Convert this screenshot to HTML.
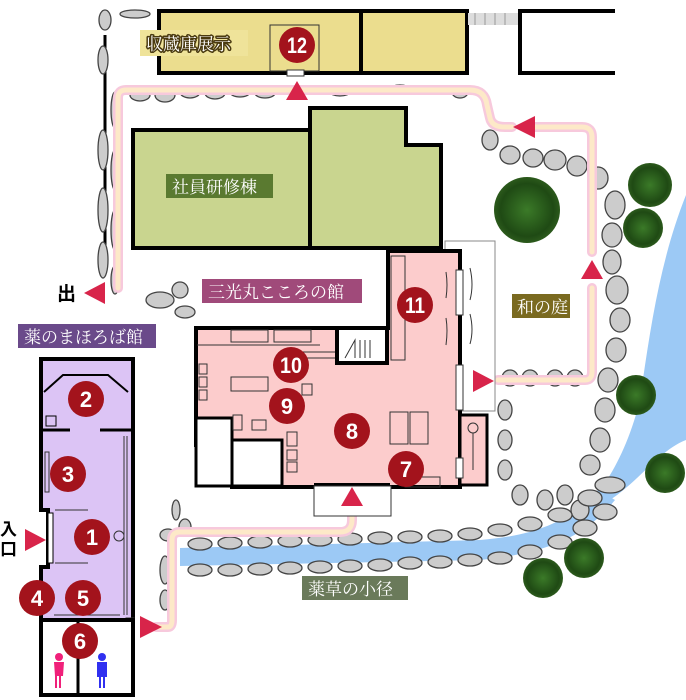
<!DOCTYPE html>
<html><head><meta charset="utf-8"><style>
html,body{margin:0;padding:0;background:#fff;}
svg{display:block}
.lb{font-family:"Liberation Serif","Noto Serif CJK SC",serif;font-size:17px;fill:#fff;}
.n{font-family:"Liberation Sans",sans-serif;font-weight:bold;font-size:22px;fill:#fff;text-anchor:middle}
</style></head><body>
<svg width="686" height="700" viewBox="0 0 686 700" xmlns="http://www.w3.org/2000/svg">
<defs>
<radialGradient id="tr"><stop offset="0" stop-color="#3b7a28"/><stop offset="0.8" stop-color="#1f4a14"/><stop offset="1" stop-color="#2c5a1c"/></radialGradient>
</defs>
<!-- river -->
<path d="M686 195 C660 260 650 330 640 400 C630 440 615 470 600 490 L610 500 C640 480 660 450 686 440 Z" fill="#9cc9f5"/>
<path d="M598 490 C570 520 540 535 480 540 L180 548 L180 566 L480 560 C560 552 590 530 615 500 Z" fill="#9cc9f5"/>
<line x1="105" y1="35" x2="105" y2="262" stroke="#000" stroke-width="3"/>
<!-- stones -->
<g stroke="#444" stroke-width="1.3" fill="#ccc">
<ellipse cx="105" cy="20" rx="6" ry="10"/><ellipse cx="135" cy="14" rx="15" ry="4"/>
<ellipse cx="103" cy="60" rx="5" ry="14"/><ellipse cx="103" cy="150" rx="5" ry="20"/><ellipse cx="103" cy="210" rx="5" ry="22"/><ellipse cx="103" cy="260" rx="5" ry="18"/>
<ellipse cx="115" cy="110" rx="4" ry="18"/><ellipse cx="115" cy="170" rx="4" ry="20"/><ellipse cx="115" cy="230" rx="4" ry="20"/><ellipse cx="115" cy="280" rx="4" ry="14"/>
<ellipse cx="140" cy="95" rx="10" ry="6"/><ellipse cx="165" cy="95" rx="10" ry="7"/><ellipse cx="190" cy="92" rx="10" ry="6"/><ellipse cx="215" cy="93" rx="10" ry="6"/><ellipse cx="240" cy="92" rx="10" ry="5"/><ellipse cx="265" cy="93" rx="10" ry="5"/>
<ellipse cx="340" cy="92" rx="10" ry="4"/><ellipse cx="370" cy="90" rx="10" ry="4"/><ellipse cx="400" cy="89" rx="10" ry="4"/><ellipse cx="430" cy="90" rx="10" ry="4"/><ellipse cx="460" cy="92" rx="8" ry="6"/>
<ellipse cx="490" cy="140" rx="8" ry="10"/><ellipse cx="510" cy="155" rx="10" ry="9"/><ellipse cx="533" cy="158" rx="10" ry="9"/><ellipse cx="555" cy="160" rx="11" ry="10"/><ellipse cx="577" cy="166" rx="10" ry="10"/><ellipse cx="598" cy="178" rx="10" ry="11"/>
<ellipse cx="615" cy="205" rx="10" ry="14"/><ellipse cx="612" cy="235" rx="10" ry="12"/><ellipse cx="612" cy="262" rx="9" ry="12"/><ellipse cx="617" cy="290" rx="11" ry="14"/><ellipse cx="620" cy="320" rx="10" ry="12"/><ellipse cx="616" cy="350" rx="10" ry="12"/><ellipse cx="608" cy="380" rx="10" ry="12"/><ellipse cx="605" cy="410" rx="10" ry="12"/><ellipse cx="600" cy="440" rx="10" ry="12"/><ellipse cx="590" cy="465" rx="10" ry="10"/><ellipse cx="610" cy="485" rx="15" ry="8"/>
<ellipse cx="510" cy="378" rx="8" ry="8"/><ellipse cx="530" cy="378" rx="8" ry="8"/><ellipse cx="555" cy="378" rx="8" ry="8"/><ellipse cx="575" cy="378" rx="8" ry="8"/>
<ellipse cx="505" cy="410" rx="7" ry="10"/><ellipse cx="505" cy="440" rx="7" ry="10"/><ellipse cx="505" cy="470" rx="7" ry="10"/><ellipse cx="520" cy="495" rx="8" ry="10"/><ellipse cx="545" cy="500" rx="8" ry="10"/><ellipse cx="565" cy="495" rx="8" ry="10"/><ellipse cx="580" cy="510" rx="9" ry="10"/>
<ellipse cx="160" cy="300" rx="14" ry="8"/><ellipse cx="185" cy="312" rx="10" ry="6"/><ellipse cx="180" cy="290" rx="8" ry="8"/>
<ellipse cx="176" cy="510" rx="4" ry="10"/><ellipse cx="185" cy="527" rx="6" ry="8"/><ellipse cx="168" cy="535" rx="8" ry="6"/><ellipse cx="165" cy="570" rx="5" ry="14"/><ellipse cx="165" cy="600" rx="5" ry="10"/>
</g>
<g stroke="#444" stroke-width="1.3" fill="#ccc">
<ellipse cx="200" cy="544" rx="12" ry="6"/><ellipse cx="230" cy="543" rx="12" ry="6"/><ellipse cx="260" cy="542" rx="12" ry="6"/><ellipse cx="290" cy="541" rx="12" ry="6"/><ellipse cx="320" cy="540" rx="12" ry="6"/><ellipse cx="350" cy="539" rx="12" ry="6"/><ellipse cx="380" cy="538" rx="12" ry="6"/><ellipse cx="410" cy="537" rx="12" ry="6"/><ellipse cx="440" cy="536" rx="12" ry="6"/><ellipse cx="470" cy="534" rx="12" ry="6"/><ellipse cx="500" cy="530" rx="12" ry="6"/><ellipse cx="530" cy="524" rx="12" ry="7"/><ellipse cx="560" cy="515" rx="12" ry="7"/><ellipse cx="590" cy="498" rx="12" ry="8"/>
<ellipse cx="200" cy="570" rx="12" ry="6"/><ellipse cx="230" cy="570" rx="12" ry="6"/><ellipse cx="260" cy="569" rx="12" ry="6"/><ellipse cx="290" cy="568" rx="12" ry="6"/><ellipse cx="320" cy="567" rx="12" ry="6"/><ellipse cx="350" cy="566" rx="12" ry="6"/><ellipse cx="380" cy="565" rx="12" ry="6"/><ellipse cx="410" cy="563" rx="12" ry="6"/><ellipse cx="440" cy="562" rx="12" ry="6"/><ellipse cx="470" cy="560" rx="12" ry="6"/><ellipse cx="500" cy="558" rx="12" ry="6"/><ellipse cx="530" cy="552" rx="12" ry="7"/><ellipse cx="560" cy="542" rx="12" ry="7"/><ellipse cx="585" cy="528" rx="12" ry="8"/><ellipse cx="605" cy="512" rx="12" ry="8"/>
</g>
<!-- trees -->
<g fill="url(#tr)"><circle cx="527" cy="210" r="33"/><circle cx="650" cy="185" r="22"/><circle cx="643" cy="228" r="20"/><circle cx="636" cy="395" r="20"/><circle cx="665" cy="473" r="20"/><circle cx="584" cy="558" r="20"/><circle cx="543" cy="578" r="20"/></g>
<!-- paths -->
<g fill="none" stroke-linecap="round" stroke-linejoin="round">
<g stroke="#f7c9dc" stroke-width="10">
<path d="M118 288 V98 Q118 90 126 90 H470 Q485 90 487 105 L490 118 Q492 127 505 127 H512"/>
<path d="M527 127 H582 Q592 127 592 137 V252"/>
<path d="M498 380 H585 Q592 380 592 372 V288"/>
<path d="M156 627 H168 Q172 627 172 620 V540 Q172 532 180 532 H340 Q352 532 352 520 V510"/>
</g>
<g stroke="#fde9c8" stroke-width="5">
<path d="M118 288 V98 Q118 90 126 90 H470 Q485 90 487 105 L490 118 Q492 127 505 127 H512"/>
<path d="M527 127 H582 Q592 127 592 137 V252"/>
<path d="M498 380 H585 Q592 380 592 372 V288"/>
<path d="M156 627 H168 Q172 627 172 620 V540 Q172 532 180 532 H340 Q352 532 352 520 V510"/>
</g></g>
<!-- top storehouse -->
<rect x="159" y="11" width="308" height="62" fill="#ebdd8e" stroke="#000" stroke-width="4"/>
<line x1="361" y1="11" x2="361" y2="73" stroke="#000" stroke-width="4"/>
<rect x="270" y="25" width="49" height="46" fill="none" stroke="#333" stroke-width="1"/>
<rect x="287" y="70" width="17" height="6" fill="#fff" stroke="#333"/>
<rect x="468" y="13" width="50" height="12" fill="#ddd"/>
<g stroke="#999" stroke-width="1"><line x1="475" y1="13" x2="475" y2="25"/><line x1="485" y1="13" x2="485" y2="25"/><line x1="495" y1="13" x2="495" y2="25"/><line x1="505" y1="13" x2="505" y2="25"/></g>
<path d="M615 11 H520 V73 H615" fill="#fff" stroke="#000" stroke-width="4"/>
<!-- green building -->
<path d="M133 130 H310 V108 H406 V145 H441 V248 H133 Z" fill="#c9d58f" stroke="#000" stroke-width="4"/>
<line x1="310" y1="108" x2="310" y2="248" stroke="#000" stroke-width="4"/>
<!-- annex outline -->
<rect x="445" y="241" width="50" height="170" fill="#fff" stroke="#888" stroke-width="1"/>
<!-- pink building -->
<path d="M196 328 H388 V251 H460 V487 H388 V485 H316 V487 H232 V445 H196 Z" fill="#fccccc" stroke="#000" stroke-width="4"/>
<rect x="196" y="418" width="36" height="68" fill="#fff" stroke="#000" stroke-width="3"/>
<rect x="232" y="440" width="50" height="46" fill="#fff" stroke="#000" stroke-width="3"/>
<rect x="337" y="328" width="50" height="35" fill="#fff" stroke="#000" stroke-width="4"/>
<g stroke="#333" stroke-width="1" fill="none">
<path d="M345 358 L355 340 V358 M360 340 V358 M365 340 V358 M370 340 V358"/>
<rect x="391" y="256" width="14" height="104"/><rect x="231" y="330" width="37" height="12"/><rect x="274" y="330" width="37" height="12"/>
<line x1="197" y1="345" x2="320" y2="345"/><line x1="300" y1="352" x2="335" y2="352"/><line x1="300" y1="358" x2="335" y2="358"/>
<rect x="231" y="377" width="37" height="14"/><rect x="199" y="364" width="8" height="10"/><rect x="199" y="377" width="8" height="10"/><rect x="199" y="390" width="8" height="10"/>
<rect x="302" y="384" width="10" height="11"/><rect x="233" y="415" width="9" height="15"/><rect x="252" y="420" width="14" height="10"/>
<rect x="287" y="432" width="10" height="14"/><rect x="287" y="450" width="10" height="10"/><rect x="287" y="462" width="10" height="10"/>
<rect x="390" y="412" width="18" height="32"/><rect x="410" y="412" width="18" height="32"/><rect x="405" y="477" width="35" height="10"/>
<path d="M446 272 Q448 285 446 298 M446 318 Q448 330 446 345 M470 268 Q474 285 470 300 M470 314 Q474 330 470 344"/>
</g>
<rect x="456" y="270" width="7" height="45" fill="#fff" stroke="#333"/>
<rect x="456" y="365" width="7" height="45" fill="#fff" stroke="#333"/>
<rect x="460" y="415" width="27" height="70" fill="#fccccc" stroke="#000" stroke-width="3"/>
<circle cx="473" cy="428" r="5" fill="none" stroke="#333"/><line x1="473" y1="433" x2="473" y2="470" stroke="#333"/>
<rect x="456" y="458" width="7" height="20" fill="#fff" stroke="#333"/>
<rect x="314" y="486" width="77" height="30" fill="#fff" stroke="#333" stroke-width="1"/>
<!-- purple building -->
<path d="M41 359 H133 V620 H41 V567 H48 V510 H41 Z" fill="#dcc4f5" stroke="#000" stroke-width="4"/>
<path d="M44 392 L63 375 H108 L128 392" fill="none" stroke="#000" stroke-width="2"/>
<path d="M41 430 H70 M100 430 H133" stroke="#000" stroke-width="3"/>
<rect x="46" y="416" width="10" height="10" fill="none" stroke="#000"/>
<g stroke="#333" stroke-width="1" fill="none"><line x1="55" y1="510" x2="88" y2="510"/><line x1="55" y1="563" x2="88" y2="563"/><line x1="124" y1="436" x2="124" y2="615"/><line x1="127" y1="436" x2="127" y2="615"/><rect x="45" y="452" width="4" height="40"/><line x1="54" y1="615" x2="120" y2="615"/><circle cx="119" cy="536" r="5"/></g>
<rect x="48" y="513" width="5" height="50" fill="#fff" stroke="#000"/>
<rect x="126" y="618" width="8" height="18" fill="#fff" stroke="#333"/>
<rect x="41" y="620" width="92" height="75" fill="#fff" stroke="#000" stroke-width="4"/>
<line x1="78" y1="620" x2="78" y2="695" stroke="#000" stroke-width="3"/>
<g fill="#f0207a"><circle cx="59" cy="657" r="4"/><path d="M54 662 H64 L63 676 H61 V688 H59 V676 H57 V688 H55 V676 Z"/></g>
<g fill="#3030f0"><circle cx="102" cy="657" r="4"/><path d="M97 662 H107 V677 H105 V688 H103 V677 H101 V688 H99 V677 H97 Z"/></g>
<!-- arrows -->
<g fill="#d8244a">
<polygon points="297,81 286,100 308,100"/><polygon points="513,127 535,116 535,138"/><polygon points="592,260 581,279 603,279"/>
<polygon points="494,381 473,370 473,392"/><polygon points="352,487 341,506 363,506"/><polygon points="84,293 105,282 105,304"/>
<polygon points="46,540 25,529 25,551"/><polygon points="162,627 140,616 140,638"/>
</g>
<!-- labels -->
<rect x="140" y="30" width="108" height="26" fill="#efe39a"/><text class="lb" x="146" y="50" stroke="#4a3a10" stroke-width="3" paint-order="stroke" stroke-linejoin="round">収蔵庫展示</text>
<rect x="166" y="174" width="107" height="24" fill="#5a7a30"/><text class="lb" x="172" y="193">社員研修棟</text>
<rect x="202" y="279" width="160" height="24" fill="#a04a7a"/><text class="lb" x="208" y="298">三光丸こころの館</text>
<rect x="18" y="324" width="138" height="24" fill="#6a4a8a"/><text class="lb" x="24" y="343">薬のまほろば館</text>
<rect x="512" y="294" width="58" height="24" fill="#7a6a20"/><text class="lb" x="517" y="313">和の庭</text>
<rect x="302" y="576" width="106" height="24" fill="#6a7a5a"/><text class="lb" x="308" y="595">薬草の小径</text>
<text x="57" y="300" font-family="Liberation Sans,'Noto Sans CJK JP',sans-serif" font-weight="bold" font-size="19" fill="#000">出</text>
<text x="0" y="535" font-family="Liberation Sans,'Noto Sans CJK JP',sans-serif" font-weight="bold" font-size="17" fill="#000">入</text>
<text x="0" y="555" font-family="Liberation Sans,'Noto Sans CJK JP',sans-serif" font-weight="bold" font-size="17" fill="#000">口</text>
<!-- numbers -->
<g fill="#a3131c">
<circle cx="297" cy="45" r="18"/><circle cx="415" cy="305" r="18"/><circle cx="291" cy="365" r="18"/><circle cx="287" cy="406" r="18"/><circle cx="352" cy="431" r="18"/><circle cx="406" cy="469" r="18"/>
<circle cx="86" cy="399" r="18"/><circle cx="68" cy="474" r="18"/><circle cx="92" cy="537" r="18"/><circle cx="37" cy="598" r="18"/><circle cx="83" cy="598" r="18"/><circle cx="80" cy="641" r="18"/>
</g>
<g>
<text class="n" x="297" y="53" textLength="20" lengthAdjust="spacingAndGlyphs">12</text><text class="n" x="415" y="313" textLength="20" lengthAdjust="spacingAndGlyphs">11</text><text class="n" x="291" y="373" textLength="22" lengthAdjust="spacingAndGlyphs">10</text><text class="n" x="287" y="414">9</text><text class="n" x="352" y="439">8</text><text class="n" x="406" y="477">7</text>
<text class="n" x="86" y="407">2</text><text class="n" x="68" y="482">3</text><text class="n" x="92" y="545">1</text><text class="n" x="37" y="606">4</text><text class="n" x="83" y="606">5</text><text class="n" x="80" y="649">6</text>
</g>
</svg>
</body></html>
